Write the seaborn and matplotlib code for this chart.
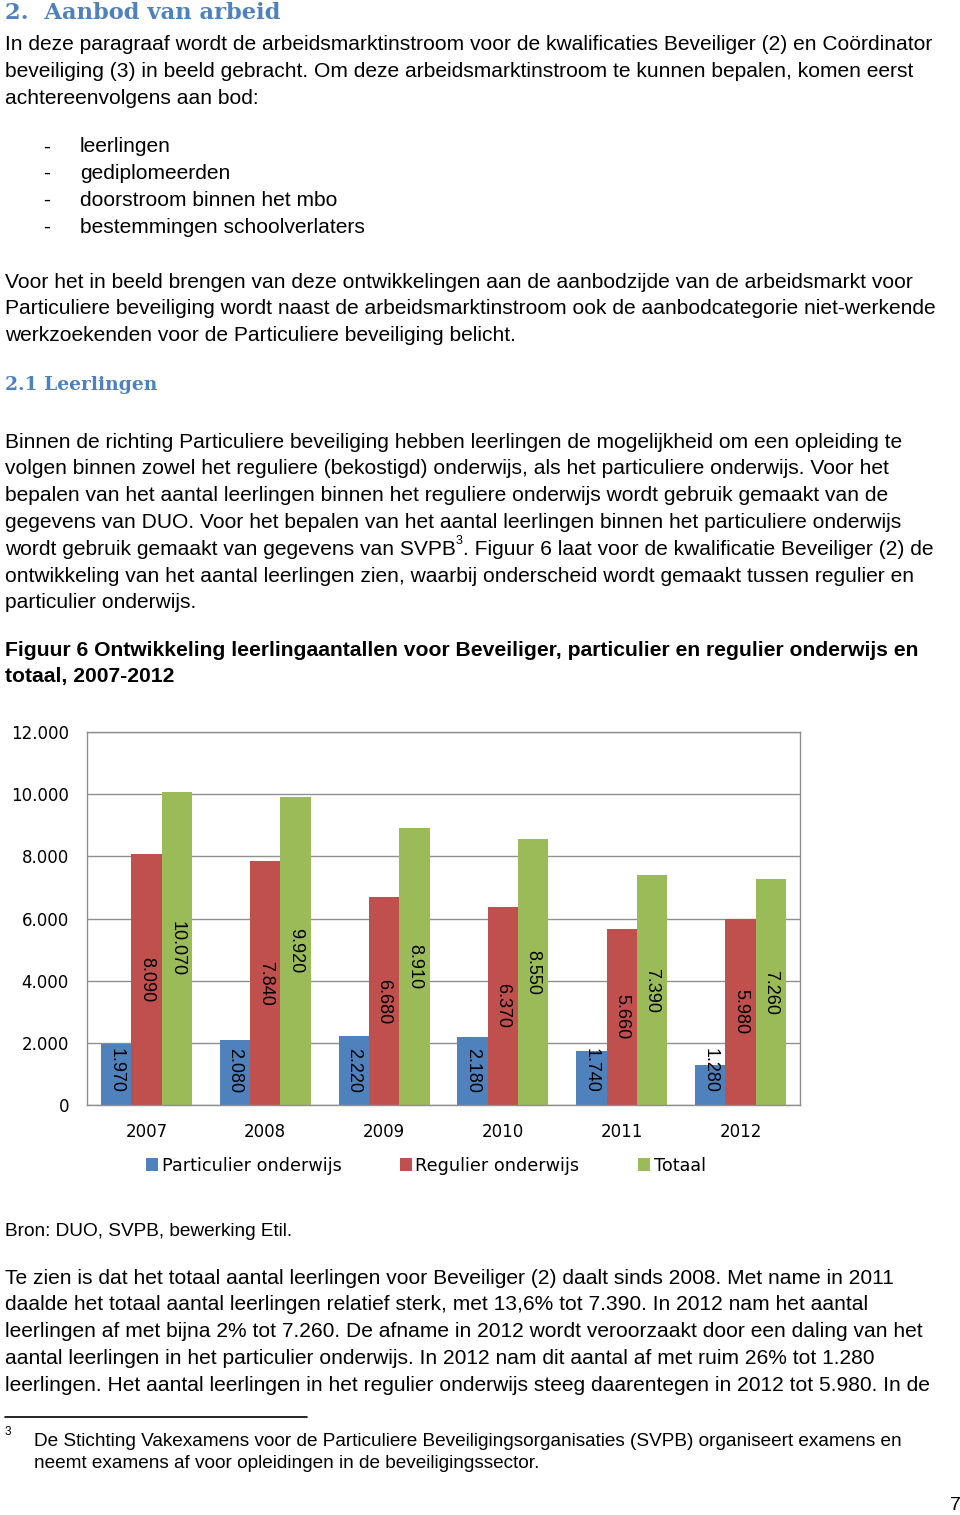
import pandas as pd
import numpy as np
import matplotlib
matplotlib.use("Agg")
import matplotlib.pyplot as plt
from matplotlib.ticker import FuncFormatter, FixedLocator
import seaborn as sns

# data
jaren = ["2007", "2008", "2009", "2010", "2011", "2012"]
particulier = [1970, 2080, 2220, 2180, 1740, 1280]
regulier = [8090, 7840, 6680, 6370, 5660, 5980]
totaal = [10070, 9920, 8910, 8550, 7390, 7260]
reeksen = ["Particulier onderwijs", "Regulier onderwijs", "Totaal"]
kleuren = ["#4F81BD", "#C0504D", "#9BBB59"]

y_ticks = [0, 2000, 4000, 6000, 8000, 10000, 12000]

BLAUW = "#4F81BD"
SANS = ["Liberation Sans", "DejaVu Sans"]
SERIF = ["DejaVu Serif"]

para1 = [
    "In deze paragraaf wordt de arbeidsmarktinstroom voor de kwalificaties Beveiliger (2) en Coördinator",
    "beveiliging (3) in beeld gebracht. Om deze arbeidsmarktinstroom te kunnen bepalen, komen eerst",
    "achtereenvolgens aan bod:",
]
bullets = ["leerlingen", "gediplomeerden", "doorstroom binnen het mbo",
           "bestemmingen schoolverlaters"]
para2 = [
    "Voor het in beeld brengen van deze ontwikkelingen aan de aanbodzijde van de arbeidsmarkt voor",
    "Particuliere beveiliging wordt naast de arbeidsmarktinstroom ook de aanbodcategorie niet-werkende",
    "werkzoekenden voor de Particuliere beveiliging belicht.",
]
para3 = [
    "Binnen de richting Particuliere beveiliging hebben leerlingen de mogelijkheid om een opleiding te",
    "volgen binnen zowel het reguliere (bekostigd) onderwijs, als het particuliere onderwijs. Voor het",
    "bepalen van het aantal leerlingen binnen het reguliere onderwijs wordt gebruik gemaakt van de",
    "gegevens van DUO. Voor het bepalen van het aantal leerlingen binnen het particuliere onderwijs",
    None,
    "ontwikkeling van het aantal leerlingen zien, waarbij onderscheid wordt gemaakt tussen regulier en",
    "particulier onderwijs.",
]
para3_sup = ("wordt gebruik gemaakt van gegevens van SVPB", "3",
             ". Figuur 6 laat voor de kwalificatie Beveiliger (2) de")
caption = [
    "Figuur 6 Ontwikkeling leerlingaantallen voor Beveiliger, particulier en regulier onderwijs en",
    "totaal, 2007-2012",
]
para4 = [
    "Te zien is dat het totaal aantal leerlingen voor Beveiliger (2) daalt sinds 2008. Met name in 2011",
    "daalde het totaal aantal leerlingen relatief sterk, met 13,6% tot 7.390. In 2012 nam het aantal",
    "leerlingen af met bijna 2% tot 7.260. De afname in 2012 wordt veroorzaakt door een daling van het",
    "aantal leerlingen in het particulier onderwijs. In 2012 nam dit aantal af met ruim 26% tot 1.280",
    "leerlingen. Het aantal leerlingen in het regulier onderwijs steeg daarentegen in 2012 tot 5.980. In de",
]
voetnoot = [
    "De Stichting Vakexamens voor de Particuliere Beveiligingsorganisaties (SVPB) organiseert examens en",
    "neemt examens af voor opleidingen in de beveiligingssector.",
]

sns.set_style("white")
plt.rcParams["font.family"] = SANS
plt.rcParams["text.color"] = "black"
plt.rcParams["xtick.color"] = "black"
plt.rcParams["ytick.color"] = "black"

fig = plt.figure(figsize=(9.6, 15.15), dpi=100)

# page text in pixel coordinates
bg = fig.add_axes([0, 0, 1, 1], zorder=0)
bg.set_xlim(0, 960)
bg.set_ylim(1515, 0)
bg.axis("off")

FS = 15.1


def regels(lines, y0, x=5, step=26.8, fs=FS, weight="normal"):
    for i, line in enumerate(lines):
        if line is None:
            continue
        bg.text(x, y0 + i * step, line, fontsize=fs, va="center",
                ha="left", family=SANS, fontweight=weight, color="black")


bg.text(5, 13, "2.  Aanbod van arbeid", fontsize=16.3, fontweight="bold",
        family=SERIF, color=BLAUW, va="center")
regels(para1, 45)
for i, b in enumerate(bullets):
    bg.text(43, 147 + i * 26.7, "-", fontsize=FS, va="center", family=SANS)
    bg.text(80, 147 + i * 26.7, b, fontsize=FS, va="center", family=SANS)
regels(para2, 282)
bg.text(5, 385, "2.1 Leerlingen", fontsize=13.5, fontweight="bold",
        family=SERIF, color=BLAUW, va="center")
regels(para3, 442)

# line with superscript
t1 = bg.text(5, 442 + 4 * 26.8, para3_sup[0], fontsize=FS, va="center",
             family=SANS, color="black")
bg.annotate(para3_sup[1], xy=(1, 0.62), xycoords=t1, fontsize=9,
            va="bottom", ha="left", family=SANS, color="black")
bg.annotate(para3_sup[2], xy=(1, 0.5), xycoords=t1, xytext=(5, 0),
            textcoords="offset points", fontsize=FS, va="center", ha="left",
            family=SANS, color="black")

regels(caption, 650, fs=15.2, weight="bold")
bg.text(5, 1231, "Bron: DUO, SVPB, bewerking Etil.", fontsize=13.7,
        va="center", family=SANS)
regels(para4, 1278)
bg.plot([5, 307], [1417, 1417], color="black", lw=1.2)
bg.text(5, 1432, "3", fontsize=8.5, va="center", family=SANS)
regels(voetnoot, 1441, x=34, step=22, fs=13.7)
bg.text(955, 1505, "7", fontsize=14, va="center", ha="center", family=SANS)

# chart
df = pd.DataFrame({
    "jaar": jaren * 3,
    "reeks": np.repeat(reeksen, len(jaren)),
    "aantal": particulier + regulier + totaal,
})

ax = fig.add_axes([87 / 960, (1515 - 1105) / 1515, 713 / 960, 373 / 1515], zorder=2)
sns.barplot(data=df, x="jaar", y="aantal", hue="reeks", palette=kleuren,
            width=0.765, saturation=1, gap=0, linewidth=0, ax=ax)

for cont in ax.containers:
    for bar in cont:
        v = bar.get_height()
        lbl = f"{int(round(v)):,}".replace(",", ".")
        ax.text(bar.get_x() + bar.get_width() / 2, max(v / 2, 1100), lbl,
                rotation=270, ha="center", va="center", fontsize=13,
                family=SANS, color="black")

ax.set_ylim(0, 12000)
ax.set_xlim(-0.5, 5.5)
ax.yaxis.set_major_locator(FixedLocator(y_ticks))
ax.yaxis.set_major_formatter(FuncFormatter(
    lambda v, p: f"{int(v):,}".replace(",", ".")))
ax.grid(axis="y", color="#8f8f8f", lw=1)
ax.set_axisbelow(True)
for s in ax.spines.values():
    s.set_color("#8f8f8f")
    s.set_linewidth(1)
    s.set_visible(True)
ax.set_xlabel("")
ax.set_ylabel("")
ax.tick_params(axis="y", length=5, color="#8f8f8f", direction="out",
               labelsize=12, pad=8, labelcolor="black")
ax.tick_params(axis="x", which="major", length=0, labelsize=12, pad=13,
               labelcolor="black")
ax.xaxis.set_minor_locator(FixedLocator(np.arange(-0.5, 6, 1)))
ax.tick_params(axis="x", which="minor", length=7, color="#8f8f8f", direction="out")
for lab in ax.get_xticklabels() + ax.get_yticklabels():
    lab.set_family(["DejaVu Sans"])

handles, labels = ax.get_legend_handles_labels()
ax.legend(handles, labels, loc="center", bbox_to_anchor=(0.475, -0.163),
          ncol=3, frameon=False, handlelength=0.7, handleheight=0.7,
          handletextpad=0.2, columnspacing=3.3,
          prop={"family": "DejaVu Sans", "size": 12.7})

fig.savefig("out.png", dpi=100)
